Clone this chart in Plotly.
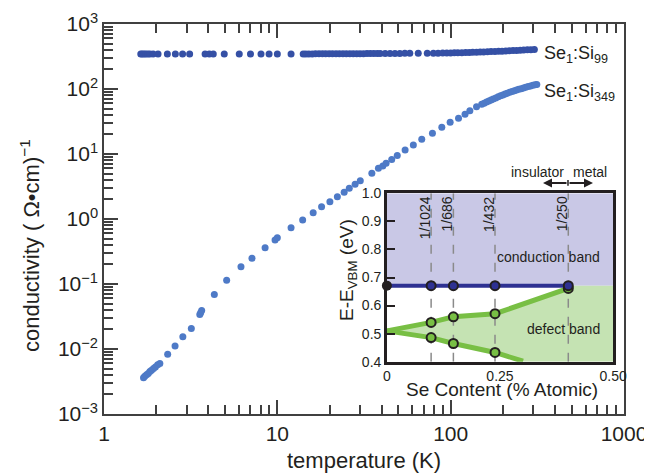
import plotly.graph_objects as go

# ---------------- data ----------------
T_si99 = [1.63, 1.66, 1.70, 1.74, 1.79, 1.84, 1.92, 2.05, 2.32, 2.58, 2.84, 3.12, 3.83, 4.05, 4.27,
          4.94, 6.03, 7.0, 8.05, 8.96, 10.0, 12.0, 14.1, 14.6, 15.2, 15.9, 16.6, 17.4, 18.2, 19.0,
          19.9, 20.8, 21.8, 22.8, 23.9, 25.0, 26.2, 27.4, 28.7, 30.0, 31.4, 32.9, 34.4, 36.0, 37.7,
          39.2, 41.9, 44.7, 47.7, 50.9, 54.4, 58.1, 65.0, 73.3, 79.5, 84.6, 90.0, 95.0, 100, 105,
          110, 116, 122, 128, 134, 141, 148, 155, 163, 171, 180, 189, 198, 208, 218, 229, 240, 252,
          264, 277, 290, 304]
S_si99 = [345, 345, 345, 345, 345, 345, 345, 345, 345, 345, 345, 345, 345, 345, 345,
          345, 345, 345, 346, 346, 346, 346, 347, 347, 347, 347, 348, 348, 348, 348,
          348, 348, 349, 349, 349, 349, 350, 350, 350, 350, 350, 351, 351, 351, 352,
          352, 352, 353, 353, 353, 354, 354, 355, 355, 356, 356, 357, 358, 359, 360,
          361, 362, 363, 364, 366, 368, 370, 372, 374, 376, 378, 380, 382, 385, 387, 390, 392, 395,
          398, 400, 403, 405]

T_si349 = [1.69, 1.72, 1.76, 1.80, 1.84, 1.88, 1.93, 1.98, 2.04, 2.10, 2.33, 2.57, 2.85, 3.19,
           3.57, 3.61, 3.66, 4.33, 5.1, 6.17, 7.14, 8.5, 9.7, 10.0, 12.0, 14.0, 16.1, 18.0, 20.1,
           22.2, 24.3, 26.0, 28.1, 30.1, 35.1, 38.3, 40.6, 42.4, 45.7, 49.2, 54.6, 60.9, 68.1,
           78.5, 88.9, 99.3, 111, 121, 129, 141, 151, 156, 161, 166, 171, 176, 182, 188, 194, 200,
           206, 212, 219, 226, 233, 240, 247, 255, 263, 271, 280, 289, 298, 307, 314]
S_si349 = [0.0036, 0.0038, 0.0040, 0.0042, 0.0045, 0.0047, 0.0050, 0.0053, 0.0057, 0.0060, 0.0083,
           0.0111, 0.0155, 0.0206, 0.034, 0.036, 0.039, 0.069, 0.114, 0.185, 0.25, 0.36, 0.475,
           0.515, 0.735, 0.966, 1.25, 1.55, 1.85, 2.2, 2.57, 2.97, 3.42, 3.89, 5.05, 6.03, 6.53,
           7.19, 8.2, 9.5, 11.5, 13.7, 16.8, 20.8, 25.7, 30.7, 35.4, 40.8, 46.4, 53.5, 58.2, 60.5,
           62.9, 65.3, 67.8, 70.2, 72.9, 75.7, 78.4, 81.1, 83.8, 86.3, 88.9, 91.4, 93.9, 96.3, 98.8,
           101.3, 103.8, 106.3, 108.9, 111.4, 113.9, 116.0, 117.5]

x_ticks = [1, 10, 100, 1000]
x_ticktext = ["1", "10", "100", "1000"]
y_ticks = [1e-3, 1e-2, 1e-1, 1e0, 1e1, 1e2, 1e3]
y_ticktext = ["10<sup>\u22123</sup>", "10<sup>\u22122</sup>", "10<sup>\u22121</sup>", "10<sup>0</sup>",
              "10<sup>1</sup>", "10<sup>2</sup>", "10<sup>3</sup>"]

# inset data
se_content = [0.0978, 0.147, 0.239, 0.401]          # % atomic
se_labels = ["1/1024", "1/686", "1/432", "1/250"]
cb_x = [0, 0.0978, 0.147, 0.239, 0.401]
cb_y = [0.671, 0.671, 0.671, 0.671, 0.671]
up_x = [0, 0.0978, 0.147, 0.239, 0.401]
up_y = [0.510, 0.540, 0.560, 0.571, 0.661]
lo_x = [0, 0.0978, 0.147, 0.239, 0.301]
lo_y = [0.510, 0.486, 0.465, 0.433, 0.402]
cb_fill_x = [0, 0.5, 0.5, 0]
cb_fill_y = [0.671, 0.671, 1.0, 1.0]
db_fill_x = [0, 0.0978, 0.147, 0.239, 0.401, 0.401, 0.5, 0.5, 0.301, 0.239, 0.147, 0.0978, 0]
db_fill_y = [0.510, 0.540, 0.560, 0.571, 0.661, 0.671, 0.671, 0.4, 0.4, 0.433, 0.465, 0.486, 0.510]

FONT = "Liberation Sans, Arial, Helvetica, sans-serif"
TXT = "#231f20"
C99 = "#3550a5"
C349 = "#4e7ac7"
NAVY = "#2e3192"
GREEN = "#78bf44"

fig = go.Figure()
fig.add_trace(go.Scatter(x=T_si99, y=S_si99, mode="markers",
                         marker=dict(size=7, color=C99), showlegend=False))
fig.add_trace(go.Scatter(x=T_si349, y=S_si349, mode="markers",
                         marker=dict(size=7, color=C349), showlegend=False))

# inset fills
fig.add_trace(go.Scatter(x=cb_fill_x, y=cb_fill_y, xaxis="x2", yaxis="y2", mode="lines",
                         fill="toself", fillcolor="#c9c8e6", line=dict(width=0), showlegend=False))
fig.add_trace(go.Scatter(x=db_fill_x, y=db_fill_y, xaxis="x2", yaxis="y2", mode="lines",
                         fill="toself", fillcolor="#c5e3b3", line=dict(width=0), showlegend=False))
# dashed lines
for sx in se_content:
    fig.add_trace(go.Scatter(x=[sx, sx], y=[0.4, 1.0], xaxis="x2", yaxis="y2", mode="lines",
                             line=dict(color="#8a8a8a", width=1.5, dash="dash"), showlegend=False))
# band lines
fig.add_trace(go.Scatter(x=up_x, y=up_y, xaxis="x2", yaxis="y2", mode="lines",
                         line=dict(color=GREEN, width=5), showlegend=False))
fig.add_trace(go.Scatter(x=lo_x, y=lo_y, xaxis="x2", yaxis="y2", mode="lines",
                         line=dict(color=GREEN, width=5), showlegend=False))
fig.add_trace(go.Scatter(x=cb_x, y=cb_y, xaxis="x2", yaxis="y2", mode="lines",
                         line=dict(color=NAVY, width=4), showlegend=False))
# markers
fig.add_trace(go.Scatter(x=up_x[1:], y=up_y[1:], xaxis="x2", yaxis="y2", mode="markers",
                         marker=dict(size=9, color=GREEN, line=dict(color="#231f20", width=2)),
                         showlegend=False))
fig.add_trace(go.Scatter(x=lo_x[1:4], y=lo_y[1:4], xaxis="x2", yaxis="y2", mode="markers",
                         marker=dict(size=9, color=GREEN, line=dict(color="#231f20", width=2)),
                         showlegend=False))
fig.add_trace(go.Scatter(x=cb_x[1:], y=cb_y[1:], xaxis="x2", yaxis="y2", mode="markers",
                         marker=dict(size=9, color=NAVY, line=dict(color="#231f20", width=2)),
                         showlegend=False))
fig.add_trace(go.Scatter(x=cb_x[:1], y=cb_y[:1], xaxis="x2", yaxis="y2", mode="markers",
                         marker=dict(size=10, color="#231f20"), showlegend=False, cliponaxis=False))

x_minor = [m * 10 ** k for k in range(0, 3) for m in range(2, 10)]
y_minor = [m * 10.0 ** k for k in range(-3, 3) for m in range(2, 10)]

axis_line = "#404040"
# page has an 8px body margin: figure is 644x465 placed at (8, 8)
fig.update_layout(
    width=644, height=465, template="none",
    margin=dict(l=96, r=28, t=16, b=59, autoexpand=False),
    paper_bgcolor="white", plot_bgcolor="white",
    font=dict(family=FONT, color=TXT, size=21),
    showlegend=False,
    xaxis=dict(type="log", range=[0, 3], tickvals=x_ticks, ticktext=x_ticktext,
               ticks="inside", ticklen=14, tickwidth=1.5, tickcolor=axis_line,
               showline=True, linecolor=axis_line, linewidth=1.5, mirror="ticks",
               showgrid=False, zeroline=False, tickfont=dict(size=21), automargin=False,
               minor=dict(tickvals=x_minor, ticks="inside", ticklen=9, tickwidth=1.5,
                          tickcolor=axis_line, showgrid=False)),
    yaxis=dict(type="log", range=[-3, 3], tickvals=y_ticks, ticktext=y_ticktext,
               ticks="inside", ticklen=14, tickwidth=1.5, tickcolor=axis_line,
               showline=True, linecolor=axis_line, linewidth=1.5, mirror=True,
               showgrid=False, zeroline=False, tickfont=dict(size=21), automargin=False,
               minor=dict(tickvals=y_minor, ticks="inside", ticklen=9, tickwidth=1.5,
                          tickcolor=axis_line, showgrid=False)),
    xaxis2=dict(domain=[0.544, 0.979], anchor="y2", range=[0, 0.5],
                tickvals=[0, 0.25, 0.5], ticktext=["0", "0.25", "0.50"], ticks="",
                showline=True, linecolor="#231f20", linewidth=2.5, mirror=True,
                showgrid=False, zeroline=False, tickfont=dict(size=14), automargin=False),
    yaxis2=dict(domain=[0.134, 0.566], anchor="x2", range=[0.4, 1.0],
                tickvals=[0.4, 0.5, 0.6, 0.7, 0.8, 0.9, 1.0],
                ticktext=["0.4", "0.5", "0.6", "0.7", "0.8", "0.9", "1.0"],
                ticks="inside", ticklen=8, tickwidth=2, tickcolor="#231f20",
                showline=True, linecolor="#231f20", linewidth=2.5, mirror=True,
                showgrid=False, zeroline=False, tickfont=dict(size=14), automargin=False),
)

ann = []
# axis titles
ann.append(dict(text="temperature (K)", xref="paper", yref="paper", x=0.5, y=-0.118,
                xanchor="center", yanchor="middle", showarrow=False, font=dict(size=22)))
ann.append(dict(text="conductivity ( \u03a9\u2022cm)<sup>\u22121</sup>", xref="paper", yref="paper",
                x=-0.142, y=0.431, textangle=-90, xanchor="center", yanchor="middle",
                showarrow=False, font=dict(size=22)))
# series labels
ann.append(dict(text="Se<sub>1</sub>:Si<sub>99</sub>", xref="paper", yref="paper", x=0.842, y=0.922,
                xanchor="left", yanchor="middle", showarrow=False, font=dict(size=18)))
ann.append(dict(text="Se<sub>1</sub>:Si<sub>349</sub>", xref="paper", yref="paper", x=0.842, y=0.824,
                xanchor="left", yanchor="middle", showarrow=False, font=dict(size=18)))
# inset titles
ann.append(dict(text="Se Content (% Atomic)", xref="paper", yref="paper", x=0.765, y=0.062,
                xanchor="center", yanchor="middle", showarrow=False, font=dict(size=19)))
ann.append(dict(text="E-E<sub>VBM</sub> (eV)", xref="paper", yref="paper", x=0.469, y=0.369,
                textangle=-90, xanchor="center", yanchor="middle", showarrow=False,
                font=dict(size=19)))
# band labels
ann.append(dict(text="conduction band", xref="x2", yref="y2", x=0.357, y=0.772,
                showarrow=False, font=dict(size=14)))
ann.append(dict(text="defect band", xref="x2", yref="y2", x=0.39, y=0.515,
                showarrow=False, font=dict(size=14)))
for sx, lab in zip(se_content, se_labels):
    ann.append(dict(text=lab, xref="x2", yref="y2", x=sx - 0.0135, y=0.995, textangle=-90,
                    xanchor="center", yanchor="top", showarrow=False, font=dict(size=14)))
# insulator / metal
ann.append(dict(text="insulator", xref="paper", yref="paper", x=0.833, y=0.62,
                xanchor="center", yanchor="middle", showarrow=False, font=dict(size=14)))
ann.append(dict(text="metal", xref="paper", yref="paper", x=0.935, y=0.62,
                xanchor="center", yanchor="middle", showarrow=False, font=dict(size=14)))
ann.append(dict(text="", xref="paper", yref="paper", x=0.8442, y=0.5923, ax=25, ay=0,
                showarrow=True, arrowhead=2, arrowsize=1, arrowwidth=1.8, arrowcolor="#231f20"))
ann.append(dict(text="", xref="paper", yref="paper", x=0.9404, y=0.5923, ax=-25, ay=0,
                showarrow=True, arrowhead=2, arrowsize=1, arrowwidth=1.8, arrowcolor="#231f20"))
fig.update_layout(annotations=ann)
fig.add_shape(type="line", xref="paper", yref="paper", x0=0.8923, x1=0.8923, y0=0.585, y1=0.600,
              line=dict(color="#231f20", width=1.5))

fig.write_html("out.html")
